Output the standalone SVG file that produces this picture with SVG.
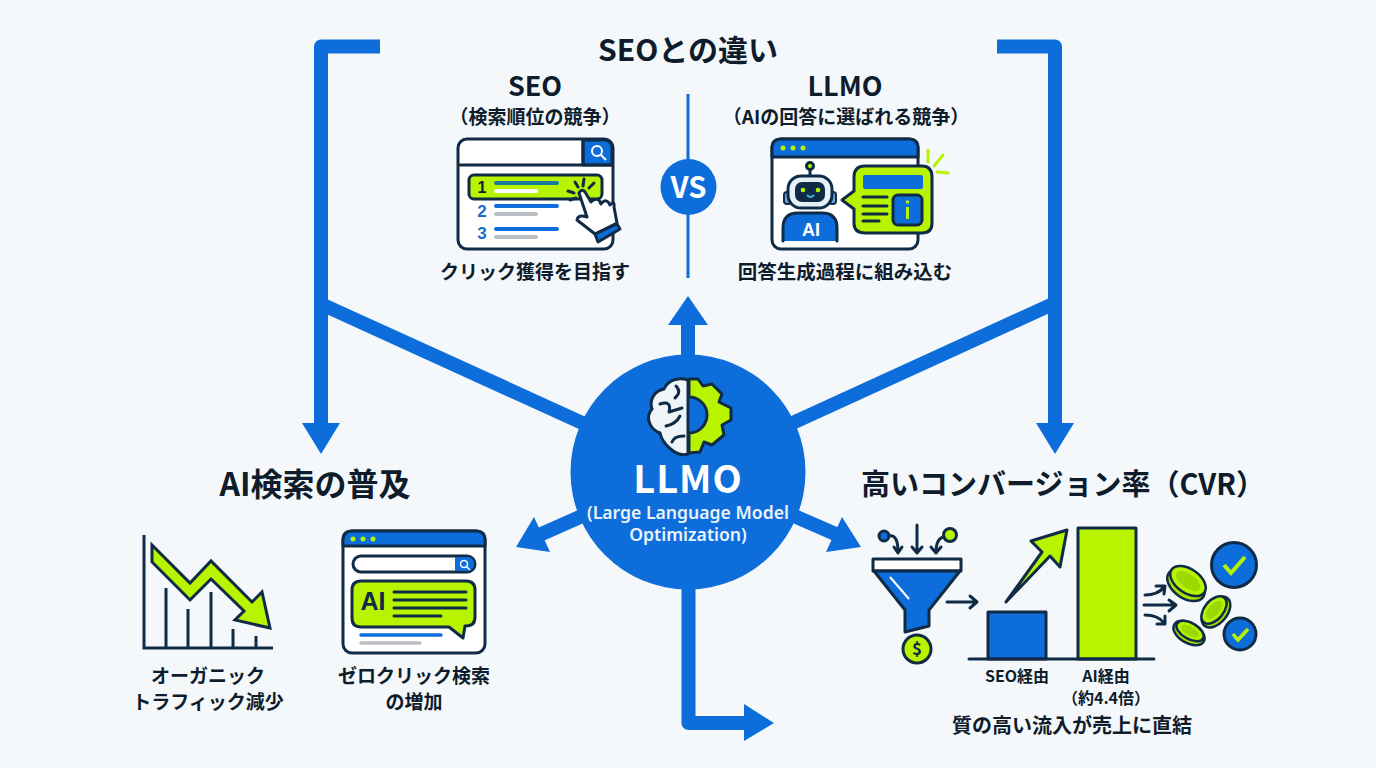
<svg xmlns="http://www.w3.org/2000/svg" width="1376" height="768" viewBox="0 0 1376 768">
<style>
text{font-family:"Noto Sans CJK JP","Noto Sans",sans-serif;font-weight:700;fill:#0e1c2b;text-anchor:middle}
.h{font-size:30px}.m{font-size:19px}.c{font-size:23px}.l{font-size:19px}.s{font-size:16px}
.conn{fill:none;stroke:#0d6edb;stroke-width:14;stroke-linejoin:round}
.ah{fill:#0d6edb;stroke:none}
.k{stroke:#0f2b46;stroke-width:3;stroke-linejoin:round;stroke-linecap:round}
.nf{fill:none}
.bl{fill:#0d6edb}.li{fill:#b8f400}.wh{fill:#fff}
</style>
<rect width="1376" height="768" fill="#f4f8fb"/>
<g id="connectors">
<path class="conn" d="M380 46.500H321V430M997 46.500H1055V430"/>
<path class="conn" d="M321 304L600 431M1055 303L775 431M688 360V320"/>
<path class="conn" d="M600 508L537 536M776 508L840 536M688.500 580V723H748"/>
<path class="ah" d="M302 423H340L321 454ZM1036 423H1074L1055 454ZM668 325H708L688 296ZM534 517L550 552L516 547ZM842 517L826 552L861 547ZM744 704L774 723L744 741Z"/>
</g>
<g id="title"><text class="h" x="688" y="61">SEOとの違い</text></g>
<g id="seo">
<text x="535" y="96" style="font-size:27px">SEO</text>
<text class="m" x="535" y="124">（検索順位の競争）</text>
<rect x="458" y="139" width="155" height="110" rx="9" class="wh k"/>
<path d="M583 140H604Q612 140 612 148V165H583Z" class="bl k"/>
<path d="M459 165H612M583 140V165" class="k nf"/>
<circle cx="597" cy="151" r="5" class="nf" stroke="#fff" stroke-width="2"/><path d="M601 155L606 160" stroke="#fff" stroke-width="2"/>
<rect x="469" y="175" width="133" height="24" rx="5" class="li k"/>
<text x="482" y="193" style="font-size:16px;font-family:'Liberation Sans',sans-serif">1</text>
<path d="M496 183H557" stroke="#1a7a9a" stroke-width="4" stroke-linecap="round"/><path d="M496 191H536" stroke="#fff" stroke-width="4" stroke-linecap="round"/>
<text x="482" y="217" style="font-size:17px;fill:#1a6cc8;font-family:'Liberation Sans',sans-serif">2</text>
<path d="M496 206H557" stroke="#0d6edb" stroke-width="4" stroke-linecap="round"/><path d="M496 214H536" stroke="#b9bec4" stroke-width="4" stroke-linecap="round"/>
<text x="482" y="239" style="font-size:17px;fill:#1a6cc8;font-family:'Liberation Sans',sans-serif">3</text>
<path d="M496 229H557" stroke="#0d6edb" stroke-width="4" stroke-linecap="round"/><path d="M496 237H536" stroke="#b9bec4" stroke-width="4" stroke-linecap="round"/>
<path d="M579 193Q582 188 585 192L591 202Q595 198 599 200L601 204Q605 198 609 203L610 205Q615 200 614 207L617 223L595 234L577 220Q578 214 587 217Z" class="wh k"/>
<path d="M595 234L617 224L620 229L598 242Z" class="bl k" stroke-width="2"/>
<path d="M575 182L578 187M584 179L583 186M594 183L589 188M568 191L574 193M570 200L576 198" class="k nf" stroke-width="2"/>
</g>
<g id="vs">
<path d="M688 94V278" stroke="#0d6edb" stroke-width="3"/>
<circle cx="688.500" cy="187" r="28" class="bl"/>
<text x="688.500" y="198" style="font-size:30px;fill:#fff" textLength="36" lengthAdjust="spacingAndGlyphs">VS</text>
</g>
<g id="llmo-side">
<text x="845" y="96" style="font-size:27px">LLMO</text>
<text class="m" x="846" y="124">（AIの回答に選ばれる競争）</text>
<rect x="772" y="139" width="146" height="110" rx="9" class="wh k"/>
<path d="M772 157V148Q772 139 781 139H909Q918 139 918 148V157Z" class="bl k"/>
<circle cx="783" cy="148" r="2.500" class="li"/><circle cx="793" cy="148" r="2.500" class="li"/><circle cx="803" cy="148" r="2.500" class="li"/>
<path d="M928 150V162M943 155L934 166M948 173L937 172" stroke="#b8f400" stroke-width="3" stroke-linecap="round" fill="none"/>
<path d="M783 241V228Q783 213 798 213H822Q837 213 837 228V241Z" class="bl"/>
<path d="M783 241V228Q783 213 798 213H822Q837 213 837 228V241" class="k nf"/>
<text x="811" y="236" style="font-size:18px;fill:#fff;font-family:'Liberation Sans',sans-serif">AI</text>
<circle cx="810" cy="166" r="3.500" class="li k" stroke-width="2"/><path d="M810 170V176" class="k"/>
<rect x="784" y="192" width="7" height="12" rx="3" fill="#6aa9dd" stroke="#0f2b46" stroke-width="2"/><rect x="829" y="192" width="7" height="12" rx="3" fill="#6aa9dd" stroke="#0f2b46" stroke-width="2"/>
<rect x="788" y="176" width="44" height="32" rx="13" fill="#e6f0f7" class="k"/>
<rect x="795" y="182" width="30" height="20" rx="7" fill="#0f2b46"/>
<circle cx="803" cy="190" r="2.300" class="li"/><circle cx="818" cy="190" r="2.300" class="li"/>
<path d="M807 195Q810.500 199 814 195" stroke="#3fb1d8" stroke-width="2" fill="none"/>
<path d="M842 200L854 191V177Q854 166 865 166H922Q932 166 932 177V223Q932 233 922 233H865Q854 233 854 223V209Z" class="li k"/>
<rect x="863" y="175" width="60" height="14" rx="2" class="bl"/>
<path d="M863 197H887M863 206H887M863 214H887M863 221H879" class="k nf" stroke-width="2.500"/>
<rect x="893" y="195" width="29" height="30" rx="5" class="bl k"/>
<path d="M907.500 207V219" stroke="#b8f400" stroke-width="3"/><circle cx="907.500" cy="202" r="1.800" class="li"/>
</g>
<g id="seo-caption"><text class="m" x="535" y="279">クリック獲得を目指す</text></g>
<g id="llmo-caption"><text class="m" x="845" y="279" style="font-size:19.500px">回答生成過程に組み込む</text></g>
<g id="center">
<circle cx="688" cy="472" r="117.500" class="bl"/>
<path d="M688 380C676 376 667 382 664 389C654 391 649 400 652 409C644 418 651 430 660 433C662 443 676 458 688 454Z" fill="#eef4f8" stroke="#0f2b46" stroke-width="3"/>
<path d="M689 379H698L703 386L712 384L722 394L719 402L731 408V420L722 425L724 435L712 445L704 442L700 452L689 453V433A18 18 0 0 0 689 397Z" class="li k"/>
<path d="M676 386Q682 392 675 398M660 404Q672 400 669 412L682 408M666 426Q676 424 680 416M672 442Q674 436 684 436" class="k nf" stroke-width="2"/>
<text x="688" y="493" style="font-size:38px;fill:#fff;letter-spacing:1px">LLMO</text>
<text x="688" y="519" style="font-size:17.600px;fill:#eaf3fc;font-family:'Noto Sans',sans-serif;font-weight:600">(Large Language Model</text>
<text x="688" y="541" style="font-size:17.600px;fill:#eaf3fc;font-family:'Noto Sans',sans-serif;font-weight:600">Optimization)</text>
</g>
<g id="ai-search">
<text x="315" y="496" style="font-size:32px">AI検索の普及</text>
<path d="M144 535V648H273M166 588V648M188 609V648M211 592V648M233 629V648M256 636V648" fill="none" stroke="#0f2b46" stroke-width="3"/>
<path d="M152 545L190 583L211 561L252 602L262 592L270 628L235 620L244 611L211 579L190 600L152 562Z" class="li" stroke="#0f2b46" stroke-width="3" stroke-linejoin="miter"/>
<text class="l" x="208" y="683">オーガニック</text>
<text class="l" x="208" y="709">トラフィック減少</text>
<rect x="343" y="531" width="142" height="122" rx="9" class="wh k"/>
<path d="M343 546V540Q343 531 352 531H476Q485 531 485 540V546Z" class="bl k"/>
<circle cx="353" cy="539" r="2.500" class="li"/><circle cx="363" cy="539" r="2.500" class="li"/><circle cx="373" cy="539" r="2.500" class="li"/>
<rect x="353" y="556" width="122" height="16" rx="8" class="wh k"/>
<path d="M455 557H467Q474 557 474 564Q474 571 467 571H455Z" class="bl"/>
<circle cx="464" cy="564" r="3.500" fill="none" stroke="#fff" stroke-width="1.500"/><path d="M466.500 566.500L470 570" stroke="#fff" stroke-width="1.500"/>
<path d="M352 590Q352 581 361 581H466Q475 581 475 590V617Q475 626 466 626H465L463 638L449 627H361Q352 627 352 618Z" class="li k"/>
<text x="373" y="610" style="font-size:25px;fill:#0f2b46;font-family:'Liberation Sans',sans-serif">AI</text>
<path d="M394 592H466M394 600H466M394 608H466M394 616H441" class="k nf" stroke-width="2.500"/>
<path d="M361 635H441" stroke="#0d6edb" stroke-width="3.500" stroke-linecap="round"/><path d="M361 643H420" stroke="#b9bec4" stroke-width="3.500" stroke-linecap="round"/>
<text class="l" x="414" y="683">ゼロクリック検索</text>
<text class="l" x="414" y="709">の増加</text>
</g>
<g id="cvr">
<text x="1063" y="495" style="font-size:29px">高いコンバージョン率（CVR）</text>
<circle cx="884" cy="536" r="5" class="bl k" stroke-width="2.500"/>
<circle cx="950" cy="535" r="6.500" class="li k" stroke-width="2.500"/>
<path d="M889 536Q898 534 898 552M894 547L898 553L902 547M917 525V552M912 547L917 553L922 547M944 537Q936 538 936 553M931 547L936 553L941 547M947 602H976M970 596L977 602L970 608" class="k nf" stroke-width="2.500"/>
<rect x="873" y="559" width="88" height="12" class="wh k"/>
<path d="M874 571H960L929 610V626L905 632V610Z" class="bl k"/>
<path d="M890 577L909 599" stroke="#fff" stroke-width="2"/>
<circle cx="917" cy="649" r="14" class="li k"/>
<text x="917" y="655" style="font-size:17px;fill:#0f2b46">$</text>
<rect x="988" y="612" width="58" height="47" class="bl k"/>
<rect x="1078" y="528" width="58" height="131" class="li k"/>
<path d="M969 659H1154" class="k nf"/>
<path d="M1006 602L1042 552L1031 541L1067 530L1060 567L1050 556Z" class="li k"/>
<text class="s" x="1017" y="682">SEO経由</text>
<text class="s" x="1106" y="682">AI経由</text>
<text class="s" x="1106" y="704">（約4.4倍）</text>
<text x="1072" y="733" style="font-size:20px">質の高い流入が売上に直結</text>
<path d="M1145 595Q1158 595 1164 587M1156 586L1165 586L1164 594M1144 605H1175M1169 600L1176 605L1169 611M1145 615Q1158 615 1164 623M1157 624H1165V616" class="k nf" stroke-width="2.500"/>
<g stroke="#0f2b46" stroke-width="2.500">
<ellipse cx="1186" cy="585" rx="21" ry="13" transform="rotate(35 1186 585)" fill="#a9e000"/>
<ellipse cx="1188" cy="581" rx="20" ry="12" transform="rotate(35 1188 581)" class="li"/>
<ellipse cx="1188" cy="581" rx="14" ry="7" transform="rotate(35 1188 581)" fill="#9bd900" stroke="none"/>
<ellipse cx="1216" cy="612" rx="18" ry="11" transform="rotate(-50 1216 612)" fill="#a9e000"/>
<ellipse cx="1214" cy="610" rx="16" ry="9.500" transform="rotate(-50 1214 610)" class="li"/>
<ellipse cx="1214" cy="610" rx="11" ry="5.500" transform="rotate(-50 1214 610)" fill="#9bd900" stroke="none"/>
<ellipse cx="1189" cy="633" rx="17" ry="10" transform="rotate(30 1189 633)" fill="#a9e000"/>
<ellipse cx="1190" cy="631" rx="15" ry="8" transform="rotate(30 1190 631)" class="li"/>
<ellipse cx="1190" cy="631" rx="10" ry="4.500" transform="rotate(30 1190 631)" fill="#9bd900" stroke="none"/>
</g>
<circle cx="1234" cy="565" r="22.500" class="bl k"/><path d="M1224 565L1231 573L1245 557" stroke="#b8f400" stroke-width="4" fill="none"/>
<circle cx="1240" cy="634" r="16" class="bl k"/><path d="M1233 634L1238 640L1248 629" stroke="#b8f400" stroke-width="3.500" fill="none"/>
</g>
</svg>
